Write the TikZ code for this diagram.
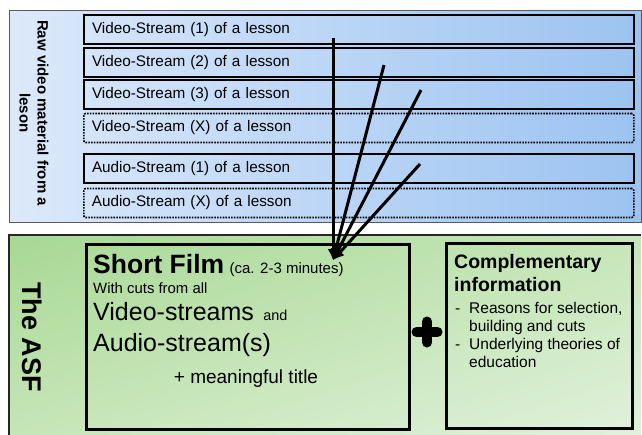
\documentclass[tikz,border=0pt]{standalone}
\usepackage{fontspec}
\setmainfont{Liberation Sans}
\usetikzlibrary{arrows.meta,shadings}
\definecolor{blueL}{HTML}{DCE9FA}
\definecolor{blueR}{HTML}{9CC3F1}
\definecolor{greenTL}{HTML}{A8D894}
\definecolor{greenM}{HTML}{C6E6B8}
\definecolor{greenBR}{HTML}{E2F1DD}
\tikzset{
  streambox/.style={draw=black, line width=2pt, anchor=west, minimum width=550pt,
    minimum height=29pt, text width=534pt, inner xsep=8pt, align=left,
    font=\fontsize{15.3}{17}\selectfont},
  dottedbox/.style={streambox, line width=1.6pt, dash pattern=on 1.6pt off 1.2pt, rounded corners=2pt},
  bigbox/.style={draw=black, line width=2.6pt},
  conn/.style={line width=3pt, -{Latex[length=11pt,width=11pt]}},
  txt/.style={anchor=base west, inner sep=0pt},
}
\begin{document}
\begin{tikzpicture}[x=1pt,y=-1pt]
\useasboundingbox (0,0) rectangle (642,434);
% top blue panel
\shade[left color=blueL, right color=blueR] (9,10) rectangle (641,222);
\draw[gray!70!black, line width=0.8pt] (9,10) rectangle (641,222);
% green panel
\shade[upper left=greenTL, upper right=greenM, lower left=greenM, lower right=greenBR] (9,235) rectangle (641,440);
\draw[black!85, line width=1.6pt] (641,235) -- (9,235) -- (9,440);
% rotated labels
\node[rotate=-90, align=center, font=\bfseries\fontsize{15}{18}\selectfont, inner sep=0pt] (raw) at (34,113) {Raw video material from a\\leson};
\node[rotate=-90, font=\bfseries\fontsize{27}{30}\selectfont, inner sep=0pt] (asf) at (32,337) {The ASF};
% streams
\node[streambox] (v1) at (83,29.5) {Video-Stream (1) of a lesson};
\node[streambox] (v2) at (83,62.5) {Video-Stream (2) of a lesson};
\node[streambox] (v3) at (83,94.5) {Video-Stream (3) of a lesson};
\node[dottedbox] (vx) at (83,128) {Video-Stream (X) of a lesson};
\node[streambox] (a1) at (83,168.5) {Audio-Stream (1) of a lesson};
\node[dottedbox] (ax) at (83,203) {Audio-Stream (X) of a lesson};
% big boxes
\node[bigbox, minimum width=323pt, minimum height=185pt, anchor=north west, inner sep=0pt] (film) at (85,243) {};
\node[bigbox, minimum width=186pt, minimum height=185pt, anchor=north west, inner sep=0pt] (comp) at (445,242) {};
% film texts
\node[txt, font=\bfseries\fontsize{26.5}{28}\selectfont] (sf) at (93,273) {Short Film};
\node[txt, font=\fontsize{15}{17}\selectfont] (ca) at ([xshift=5pt]sf.base east) {(ca. 2-3 minutes)};
\node[txt, font=\fontsize{14.9}{17}\selectfont] (cuts) at (93,293) {With cuts from all};
\node[txt, font=\fontsize{25}{27}\selectfont] (vs) at (93,320) {Video-streams};
\node[txt, font=\fontsize{14.4}{17}\selectfont] (and) at ([xshift=9pt]vs.base east) {and};
\node[txt, font=\fontsize{25}{27}\selectfont] (as) at (93,351) {Audio-stream(s)};
\node[anchor=base, inner sep=0pt, font=\fontsize{19}{21}\selectfont] (mt) at (246,383) {+ meaningful title};
% complementary texts
\node[txt, font=\bfseries\fontsize{19.5}{22}\selectfont] (c1) at (454,268) {Complementary};
\node[txt, font=\bfseries\fontsize{19.5}{22}\selectfont] (c2) at (454,291) {information};
\tikzset{btxt/.style={txt, font=\fontsize{15.5}{17}\selectfont}}
\node[btxt] (d1) at (455,313) {-};
\node[btxt] (b1) at (469,313) {Reasons for selection,};
\node[btxt] (b1b) at (469,331) {building and cuts};
\node[btxt] (d2) at (455,349) {-};
\node[btxt] (b2) at (469,349) {Underlying theories of};
\node[btxt] (b2b) at (469,367) {education};
% plus sign
\coordinate (plus) at (427,332);
\draw[line width=10pt, line cap=round] ([yshift=-10.5pt]plus) -- ([yshift=10.5pt]plus);
\draw[line width=10pt, line cap=round] ([xshift=-10.5pt]plus) -- ([xshift=10.5pt]plus);
% arrows
\coordinate (tip) at (333,260);
\coordinate (s1) at (333,38);
\coordinate (s2) at (384,65);
\coordinate (s3) at (421,90);
\coordinate (s4) at (420,164);
\draw[conn] (s1) -- (tip);
\draw[conn] (s2) -- (tip);
\draw[conn] (s3) -- (tip);
\draw[conn] (s4) -- (tip);
\end{tikzpicture}
\end{document}
